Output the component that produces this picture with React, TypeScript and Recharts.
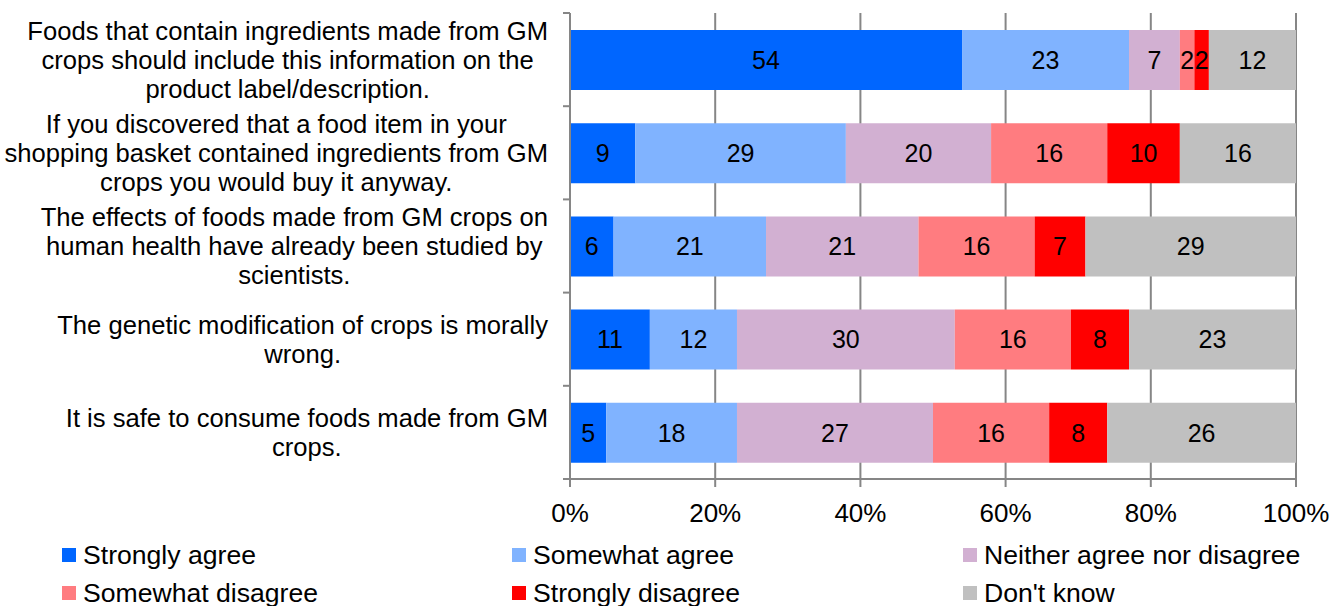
import React from 'react'
import { Bar, BarChart, CartesianGrid, LabelList, XAxis, YAxis } from 'recharts'

// statements, top to bottom ("\n" = line break in the axis label)
const statements = [
    'Foods that contain ingredients made from GM\ncrops should include this information on the\nproduct label/description.',
    'If you discovered that a food item in your\nshopping basket contained ingredients from GM\ncrops you would buy it anyway.',
    'The effects of foods made from GM crops on\nhuman health have already been studied by\nscientists.',
    'The genetic modification of crops is morally\nwrong.',
    'It is safe to consume foods made from GM\ncrops.',
]

const stronglyAgree = [54, 9, 6, 11, 5]
const somewhatAgree = [23, 29, 21, 12, 18]
const neither = [7, 20, 21, 30, 27]
const somewhatDisagree = [2, 16, 16, 16, 16]
const stronglyDisagree = [2, 10, 7, 8, 8]
const dontKnow = [12, 16, 29, 23, 26]

const xTicks = [0, 20, 40, 60, 80, 100]

const series = [
    { key: 'sa', name: 'Strongly agree', color: '#0066FF', values: stronglyAgree },
    { key: 'wa', name: 'Somewhat agree', color: '#80B3FF', values: somewhatAgree },
    { key: 'ne', name: 'Neither agree nor disagree', color: '#D2B0D2', values: neither },
    { key: 'wd', name: 'Somewhat disagree', color: '#FF7C80', values: somewhatDisagree },
    { key: 'sd', name: 'Strongly disagree', color: '#FF0000', values: stronglyDisagree },
    { key: 'dk', name: "Don't know", color: '#C0C0C0', values: dontKnow },
]

const data = statements.map((s, i) => {
    const row: Record<string, string | number> = { statement: s }
    series.forEach(se => { row[se.key] = se.values[i] })
    return row
})

const FONT = '"Liberation Sans", Arial, sans-serif'
const AXIS_GREY = '#868686'

let ctx: CanvasRenderingContext2D | null = null
const measure = (text: string, size: number) => {
    if (!ctx) ctx = document.createElement('canvas').getContext('2d')
    if (!ctx) return text.length * size * 0.5
    ctx.font = `${size}px "Liberation Sans"`
    return ctx.measureText(text).width
}

const StatementTick = (props: any) => {
    const { x, y, payload, index, visibleTicksCount } = props
    const lines: string[] = String(payload.value).split('\n')
    const half = payload.offset || 46.6
    const size = 25.6
    const lh = 29
    const maxW = Math.max(...lines.map(l => measure(l, size)))
    const cx = x - 22 - maxW / 2
    const startY = y - ((lines.length - 1) * lh) / 2
    return (
        <g>
            <line x1={x - 7} x2={x} y1={y - half} y2={y - half} stroke={AXIS_GREY} strokeWidth={2} />
            {index === visibleTicksCount - 1 && (
                <line x1={x - 7} x2={x} y1={y + half} y2={y + half} stroke={AXIS_GREY} strokeWidth={2} />
            )}
            <text textAnchor='middle' fontSize={size} fontFamily={FONT} fill='#000'>
                {lines.map((l, i) => (
                    <tspan key={i} x={cx} y={startY + i * lh} dy='0.36em'>{l}</tspan>
                ))}
            </text>
        </g>
    )
}

const legendCols = [62, 512, 963]
const legendRows = [555, 593]

const App = () => {
    return (
        <div style={{ position: 'absolute', left: 0, top: 0, width: 1330, height: 606, background: '#fff', fontFamily: FONT }}>
            <BarChart
                width={1330}
                height={540}
                data={data}
                layout='vertical'
                margin={{ top: 13, right: 34, bottom: 0, left: 0 }}
                barSize={60}
            >
                <CartesianGrid horizontal={false} vertical={true} stroke={AXIS_GREY} strokeWidth={2} />
                <XAxis
                    type='number'
                    domain={[0, 100]}
                    ticks={xTicks}
                    tickFormatter={(v: number) => `${v}%`}
                    height={61}
                    tickSize={8}
                    tickMargin={17}
                    stroke={AXIS_GREY}
                    strokeWidth={2}
                    tick={{ fill: '#000', fontSize: 26, fontFamily: FONT }}
                    interval={0}
                />
                <YAxis
                    type='category'
                    dataKey='statement'
                    width={570}
                    tickLine={false}
                    tickSize={0}
                    tickMargin={0}
                    stroke={AXIS_GREY}
                    strokeWidth={2}
                    tick={<StatementTick />}
                    interval={0}
                />
                {series.map(se => (
                    <Bar key={se.key} dataKey={se.key} name={se.name} stackId='a' fill={se.color} isAnimationActive={false}>
                        <LabelList dataKey={se.key} position='center' fill='#000' fontSize={25} fontFamily={FONT} />
                    </Bar>
                ))}
            </BarChart>
            {series.map((se, i) => (
                <div
                    key={se.key}
                    style={{
                        position: 'absolute',
                        left: legendCols[i % 3],
                        top: legendRows[Math.floor(i / 3)] - 16,
                        height: 32,
                        display: 'flex',
                        alignItems: 'center',
                        whiteSpace: 'nowrap',
                    }}
                >
                    <div style={{ width: 14, height: 14, background: se.color }} />
                    <span style={{ marginLeft: 7, fontSize: 26.6, color: '#000' }}>{se.name}</span>
                </div>
            ))}
        </div>
    )
}

export default App
